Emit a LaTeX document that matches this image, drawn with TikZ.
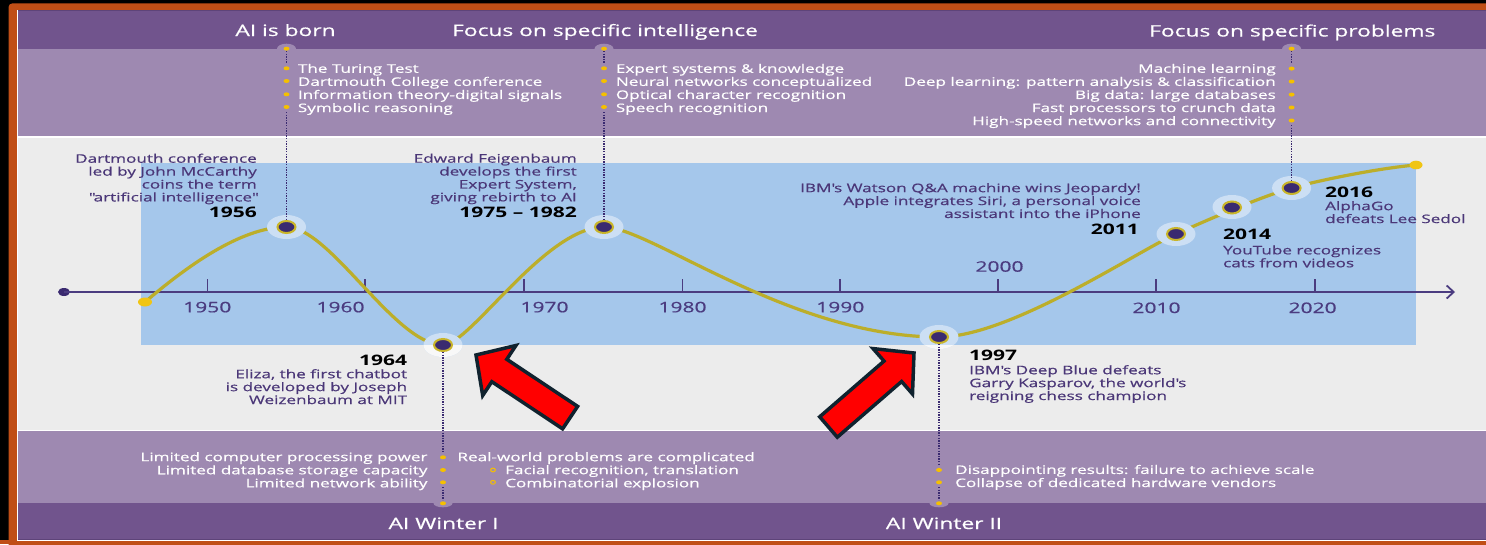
\documentclass[tikz,border=0pt]{standalone}
\usepackage{fontspec}
\setmainfont{Open Sans}[FakeStretch=1.45,UprightFeatures={FakeBold=0.6}]
\usetikzlibrary{arrows.meta,shapes.geometric}
\definecolor{bandD}{HTML}{71548D}
\definecolor{bandL}{HTML}{9E89B1}
\definecolor{midGray}{HTML}{ECECEC}
\definecolor{skyB}{HTML}{A5C7EB}
\definecolor{haloB}{HTML}{CCDFF4}
\definecolor{haloW}{HTML}{F8F8F8}
\definecolor{frameO}{HTML}{C04E16}
\definecolor{txtP}{HTML}{4B3778}
\definecolor{axisC}{HTML}{4B3C80}
\definecolor{curveY}{HTML}{BCAE2A}
\definecolor{ringY}{HTML}{C9B52A}
\definecolor{evtD}{HTML}{3A2A70}
\definecolor{bulY}{HTML}{F5C000}
\definecolor{dotY}{HTML}{F0C514}
\definecolor{arrR}{HTML}{FF0000}
\definecolor{arrO}{HTML}{10222E}
\definecolor{lineD}{HTML}{5E4479}
\begin{document}
\begin{tikzpicture}[x=1pt,y=-1pt,
  hd/.style={text=white,font=\fontsize{15.7}{18}\selectfont,inner sep=0,anchor=base},
  lst/.style={text=white,font=\fontsize{11.8}{13.1}\selectfont,inner sep=0},
  lbl/.style={text=txtP,font=\fontsize{11.8}{12.9}\selectfont,inner sep=0},
  yr/.style={text=black,font=\bfseries\fontsize{14.5}{16}\selectfont,inner sep=0},
  axl/.style={text=axisC,font=\fontsize{14.5}{16}\selectfont,inner sep=0,anchor=base},
  evt/.style={ellipse,minimum width=18pt,minimum height=12pt,inner sep=0,fill=evtD,draw=ringY,line width=2pt},
  dotl/.style={draw=evtD,line width=1.4pt,dash pattern=on 1.3pt off 1.3pt},
  axisline/.style={draw=axisC,line width=1.8pt},
  curveline/.style={draw=curveY,line width=3.2pt,line cap=round},
  redarrow/.style={fill=arrR,draw=arrO,line width=3.5pt,line join=miter}
]
\useasboundingbox (0,0) rectangle (1486,544);
\clip (0,0) rectangle (1486,544);
% frame
\fill[black] (0,0) rectangle (1486,544);
\fill[frameO,rounded corners=4pt] (8.5,3.3) rectangle (1495,555);
\fill[frameO] (0,540) rectangle (1486,544);
\fill[white] (17,10.3) rectangle (1486,541.3);
% bands
\fill[bandD] (17.6,10.3) rectangle (1486,48.7);
\fill[lineD] (17.6,10.3) rectangle (1486,11.3);
\fill[bandL] (17.6,48.7) rectangle (1486,136.3);
\fill[midGray] (17.6,138) rectangle (1486,429.5);
\fill[bandL] (17.6,431) rectangle (1486,503.3);
\fill[bandD] (17.6,503.3) rectangle (1486,538.8);
\fill[lineD] (17.6,538.8) rectangle (1486,540);
% bumps
\foreach \x in {286.5,604,1291.6} \fill[bandL] (\x,48.7) ellipse [x radius=9.5,y radius=5];
\foreach \x in {443,939} \fill[bandL] (\x,503.3) ellipse [x radius=9.5,y radius=4];
% blue panel
\fill[skyB] (141,163.3) rectangle (1416,345);
% axis
\node[ellipse,fill=evtD,minimum width=12pt,minimum height=8pt,inner sep=0] (ax0) at (64,292) {};
\coordinate (ax1) at (1455,292);
\draw[axisline,-{Straight Barb[length=7pt,width=13pt]}] (ax0.center) -- (ax1);
\foreach \x in {207.3,365,524,682.3,840,998,1156,1315} \draw[axisC,line width=1.6pt] (\x,279) -- (\x,292);
\node[axl] (a1950) at (207.3,312.3) {1950};
\node[axl] (a1960) at (340.5,312.3) {1960};
\node[axl] (a1970) at (544.5,312.3) {1970};
\node[axl] (a1980) at (682.5,312.3) {1980};
\node[axl] (a1990) at (840.3,312.3) {1990};
\node[axl] (a2000) at (999.5,271.7) {2000};
\node[axl] (a2010) at (1156.5,313) {2010};
\node[axl] (a2020) at (1312.6,313) {2020};
% curve
\draw[curveline] (145,302) .. controls (185,268) and (240,227) .. (286.5,227)
  .. controls (330,227) and (395,345) .. (443,345)
  .. controls (470,345) and (545,227) .. (604,227)
  .. controls (650,227) and (790,337) .. (939,337)
  .. controls (1010,337) and (1136,252) .. (1176,234)
  .. controls (1205,221) and (1260,197) .. (1291.6,188)
  .. controls (1320,180) and (1380,168) .. (1416,165);
\fill[dotY] (145,302) ellipse [x radius=7,y radius=4.5];
\fill[dotY] (1416,165) ellipse [x radius=6.5,y radius=4.3];
% halos
\foreach \p in {(286.5,227),(604,227),(1176,234),(1232,207),(1291.6,188),(443,345),(939,337)} \fill[haloB] \p ellipse [x radius=19.5,y radius=12];
\begin{scope}
  \clip (0,345) rectangle (1486,544);
  \fill[haloW] (443,345) ellipse [x radius=19.5,y radius=12];
  \fill[haloW] (939,337) ellipse [x radius=19.5,y radius=12];
\end{scope}
% dotted guides
\coordinate (t1956) at (286.5,51); \coordinate (u1956) at (286.5,63);
\coordinate (s1956) at (286.5,112);
\coordinate (t1975) at (604,51); \coordinate (u1975) at (604,63);
\coordinate (s1975) at (604,112);
\coordinate (t2016) at (1291.6,51); \coordinate (u2016) at (1291.6,63);
\coordinate (s2016) at (1291.6,125);
\coordinate (s1964) at (443,452); \coordinate (v1964) at (443,487); \coordinate (w1964) at (443,500);
\coordinate (s1997) at (939,465); \coordinate (v1997) at (939,487); \coordinate (w1997) at (939,500);
% event nodes
\node[evt] (n1956) at (286.5,227) {};
\node[evt] (n1975) at (604,227) {};
\node[evt] (n1964) at (443,345) {};
\node[evt] (n1997) at (939,337) {};
\node[evt] (n2011) at (1176,234) {};
\node[evt] (n2014) at (1232,207.5) {};
\node[evt] (n2016) at (1291.6,188) {};
\draw[dotl] (t1956) -- (u1956); \draw[dotl] (s1956) -- (n1956);
\draw[dotl] (t1975) -- (u1975); \draw[dotl] (s1975) -- (n1975);
\draw[dotl] (t2016) -- (u2016); \draw[dotl] (s2016) -- (n2016);
\draw[dotl] (n1964) -- (s1964); \draw[dotl] (v1964) -- (w1964);
\draw[dotl] (n1997) -- (s1997); \draw[dotl] (v1997) -- (w1997);
% bullets
\foreach \x in {286.5,604,1291.6} \fill[bulY] (\x,48.7) ellipse [x radius=3,y radius=2];
\foreach \x in {443,939} \fill[bulY] (\x,503.3) ellipse [x radius=3,y radius=2];
\foreach \y in {68.3,81,94.3,107} {
  \fill[bulY] (286.5,\y) ellipse [x radius=3,y radius=2];
  \fill[bulY] (604,\y) ellipse [x radius=3,y radius=2];
}
\foreach \y in {68.6,81.5,94.6,107.5,120.5} \fill[bulY] (1291.6,\y) ellipse [x radius=3,y radius=2];
\foreach \y in {457.3,470,482.3} \fill[bulY] (443,\y) ellipse [x radius=3,y radius=2];
\foreach \y in {470,482.3} {
  \fill[bulY] (939,\y) ellipse [x radius=3,y radius=2];
  \draw[bulY,line width=1pt] (493,\y) ellipse [x radius=2.4,y radius=1.9];
}
% headers
\node[hd] (h1) at (285.5,36) {AI is born};
\node[hd] (h2) at (605,36) {Focus on specific intelligence};
\node[hd] (h3) at (1292.3,36.5) {Focus on specific problems};
\node[hd] (h4) at (443.5,529) {AI Winter I};
\node[hd] (h5) at (944,529) {AI Winter II};
% top lists
\node[lst,anchor=north west,align=left] (l1) at (297.7,63.6) {The Turing Test\\Dartmouth College conference\\Information theory-digital signals\\Symbolic reasoning};
\node[lst,anchor=north west,align=left] (l2) at (615.7,63.6) {Expert systems \& knowledge\\Neural networks conceptualized\\Optical character recognition\\Speech recognition};
\node[lst,anchor=north east,align=right] (l3) at (1276,63.6) {Machine learning\\Deep learning: pattern analysis \& classification\\Big data: large databases\\Fast processors to crunch data\\High-speed networks and connectivity};
% event labels
\node[lbl,anchor=north east,align=right] (d1956) at (257,153.5) {Dartmouth conference\\led by John McCarthy\\coins the term\\\textquotedbl artificial intelligence\textquotedbl};
\node[yr,anchor=base east] (y1956) at (257,217.7) {1956};
\node[lbl,anchor=north east,align=right] (d1975) at (577,153.5) {Edward Feigenbaum\\develops the first\\Expert System,\\giving rebirth to AI};
\node[yr,anchor=base east] (y1975) at (577,217.7) {1975 -- 1982};
\node[lbl,anchor=north east,align=right] (d2011) at (1141,183) {IBM\textquotesingle s Watson Q\&A machine wins Jeopardy!\\Apple integrates Siri, a personal voice\\assistant into the iPhone};
\node[yr,anchor=base east] (y2011) at (1139,234.3) {2011};
\node[yr,anchor=base west] (y2014) at (1223,239.3) {2014};
\node[lbl,anchor=north west,align=left] (d2014) at (1223,245.2) {YouTube recognizes\\cats from videos};
\node[yr,anchor=base west] (y2016) at (1325,197.3) {2016};
\node[lbl,anchor=north west,align=left] (d2016) at (1325,201) {AlphaGo\\defeats Lee Sedol};
\node[yr,anchor=base east] (y1964) at (407.3,365) {1964};
\node[lbl,anchor=north east,align=right] (d1964) at (407.3,369) {Eliza, the first chatbot\\is developed by Joseph\\Weizenbaum at MIT};
\node[yr,anchor=base west] (y1997) at (969,360.7) {1997};
\node[lbl,anchor=north west,align=left] (d1997) at (969,365) {IBM\textquotesingle s Deep Blue defeats\\Garry Kasparov, the world\textquotesingle s\\reigning chess champion};
% bottom lists
\node[lst,anchor=north east,align=right] (b1) at (427.7,452) {Limited computer processing power\\Limited database storage capacity\\Limited network ability};
\node[lst,anchor=north west] (b2) at (457.3,452) {Real-world problems are complicated};
\node[lst,anchor=north west,align=left] (b3) at (505,465) {Facial recognition, translation\\Combinatorial explosion};
\node[lst,anchor=north west,align=left] (b4) at (955,464.7) {Disappointing results: failure to achieve scale\\Collapse of dedicated hardware vendors};
% red arrows
\draw[redarrow] (476,355) -- (515.9,345.5) -- (506.8,359.3) -- (577.6,406.4) -- (562.6,428.8) -- (491.8,381.7) -- (482.7,395.5) -- cycle;
\draw[redarrow] (914,353) -- (873.1,348.6) -- (884,361.1) -- (819.7,416.8) -- (837.3,437.2) -- (901.6,381.5) -- (912.5,394) -- cycle;
\end{tikzpicture}
\end{document}
